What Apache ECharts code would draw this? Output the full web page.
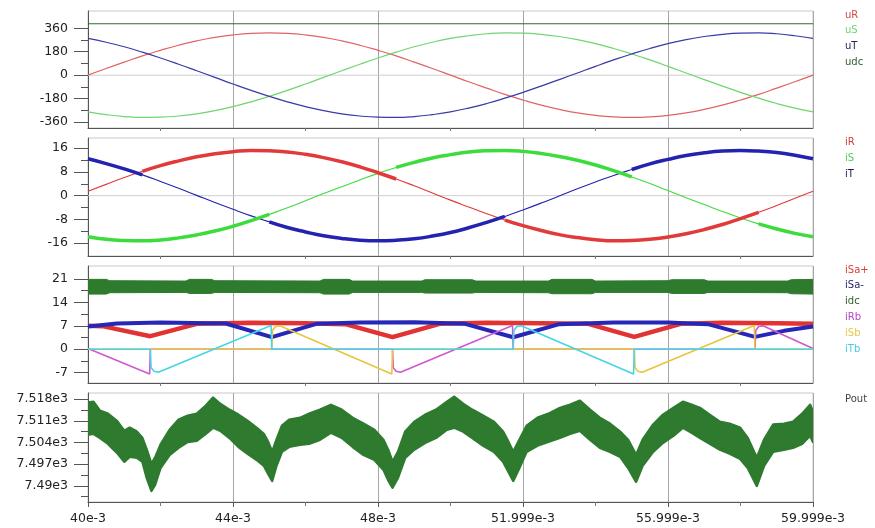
<!DOCTYPE html>
<html>
<head>
<meta charset="utf-8">
<script src="https://cdn.jsdelivr.net/npm/echarts@6/dist/echarts.min.js"></script>
<style>
html,body{margin:0;padding:0;background:#fff;}
#chart{width:875px;height:528px;}
</style>
</head>
<body>
<div id="chart"></div>
<script>
// ---- time base (ms) for the grid voltages and phase currents ----
const tAxis = [40,40.5,41,41.5,42,42.5,43,43.5,44,44.5,45,45.5,46,46.5,47,47.5,48,48.5,49,49.5,
  50,50.5,51,51.5,52,52.5,53,53.5,54,54.5,55,55.5,56,56.5,57,57.5,58,58.5,59,59.5,60];

// ---- phase voltages (V) ----
const uR = [0,51,100,148,191,230,263,290,309,321,325,321,309,290,263,230,191,148,100,51,
  0,-51,-100,-148,-191,-230,-263,-290,-309,-321,-325,-321,-309,-290,-263,-230,-191,-148,-100,-51,0];
const uS = [-282,-303,-318,-325,-323,-314,-297,-273,-242,-205,-163,-117,-68,-17,34,84,132,177,218,253,
  282,303,318,325,323,314,297,273,242,205,163,117,68,17,-34,-84,-132,-177,-218,-253,-282];
const uT = [282,253,218,177,132,84,34,-17,-68,-117,-163,-205,-242,-273,-297,-314,-323,-325,-318,-303,
  -282,-253,-218,-177,-132,-84,-34,17,68,117,163,205,242,273,297,314,323,325,318,303,282];
const udcTime = [40, 60];
const udc = [395, 395];

// ---- phase currents (A) ----
const iR = [1.5,3.8,6.1,8.2,10.1,11.7,13.1,14.1,14.8,15.2,15.1,14.7,13.9,12.8,11.4,9.7,7.7,5.6,3.3,0.9,
  -1.5,-3.8,-6.1,-8.2,-10.1,-11.7,-13.1,-14.1,-14.8,-15.2,-15.1,-14.7,-13.9,-12.8,-11.4,-9.7,-7.7,-5.6,-3.3,-0.9,1.5];
const iS = [-13.8,-14.7,-15.1,-15.2,-14.9,-14.2,-13.2,-11.9,-10.3,-8.4,-6.3,-4.1,-1.7,0.7,3.0,5.3,7.5,9.5,11.2,12.7,
  13.8,14.7,15.1,15.2,14.9,14.2,13.2,11.9,10.3,8.4,6.3,4.1,1.7,-0.7,-3.0,-5.3,-7.5,-9.5,-11.2,-12.7,-13.8];
const iT = [12.4,10.8,9.0,7.0,4.8,2.5,0.1,-2.3,-4.6,-6.8,-8.8,-10.7,-12.2,-13.5,-14.4,-15.0,-15.2,-15.0,-14.5,-13.6,
  -12.4,-10.8,-9.0,-7.0,-4.8,-2.5,-0.1,2.3,4.6,6.8,8.8,10.7,12.2,13.5,14.4,15.0,15.2,15.0,14.5,13.6,12.4];
// intervals (ms) where each phase current carries switching ripple
const iRRipple = [[41.5, 48.5], [51.5, 58.5]];
const iSRipple = [[40, 45], [48.5, 55], [58.5, 60]];
const iTRipple = [[40, 41.5], [45, 51.5], [55, 60]];

// ---- switch / dc-link currents (A) ----
const iSaPosTime = [40,40.4,41.72,43.0,44.5,46.0,47.1,48.4,49.7,51.0,52.5,53.8,55.07,56.35,57.5,59.0,60];
const iSaPos     = [7.0,6.9,3.9,7.6,7.9,7.8,7.5,3.6,7.6,7.9,7.8,7.6,3.7,7.6,7.9,7.8,7.6];
const iSaNegTime = [40,40.8,42.0,43.8,45.07,46.3,47.5,49.0,50.4,51.73,53.0,54.5,56.0,57.1,58.4,59.2,60];
const iSaNeg     = [6.8,7.7,8.0,7.7,3.6,7.6,8.0,8.1,7.6,3.6,7.5,8.0,8.0,7.5,3.7,5.5,6.8];
const idcTime  = [40,40.5,40.6,42.7,42.8,43.4,43.5,46.4,46.5,47.2,47.3,49.2,49.3,50.6,50.7,52.7,52.8,53.9,54.0,56.0,56.1,57.0,57.1,59.3,59.4,60];
const idcHigh  = [20.9,20.9,20.5,20.4,20.9,20.9,20.5,20.4,20.9,20.9,20.4,20.4,20.8,20.8,20.4,20.4,20.9,20.9,20.4,20.5,20.8,20.8,20.4,20.4,20.8,20.9];
const idcLow   = [16.5,16.5,16.9,17.0,16.7,16.7,17.0,16.9,16.5,16.5,17.0,17.0,16.8,16.8,17.0,16.9,16.6,16.6,17.0,17.0,16.7,16.7,17.0,16.9,16.6,16.5];
const iRbTime = [40,41.70,41.72,48.40,48.42,48.50,48.62,51.71,51.73,58.40,58.42,58.50,58.62,60];
const iRb     = [0.2,-7.4,0,0,-5.5,-6.6,-6.9,7.1,0,0,5.6,6.8,7.0,0.2];
const iSbTime = [40,45.07,45.09,45.17,45.29,48.38,48.40,55.07,55.09,55.17,55.29,58.38,58.40,60];
const iSb     = [0,0,5.6,6.8,7.0,-7.4,0,0,-5.5,-6.6,-6.9,7.1,0,0];
const iTbTime = [40,41.72,41.74,41.82,41.94,45.05,45.07,51.73,51.75,51.83,51.95,55.05,55.07,60];
const iTb     = [0,0,-5.5,-6.6,-6.9,7.1,0,0,5.6,6.8,7.0,-7.4,0,0];

// ---- output power envelope (W) ----
const poutTime = [40.00,40.15,40.33,40.55,40.80,41.00,41.15,41.35,41.50,41.62,
  41.75,41.85,42.00,42.25,42.50,42.75,43.00,43.25,43.45,43.65,
  43.90,44.15,44.40,44.65,44.85,44.97,45.08,45.20,45.35,45.55,
  45.85,46.10,46.40,46.70,47.00,47.30,47.60,47.90,48.15,48.28,
  48.40,48.55,48.75,49.00,49.30,49.60,49.90,50.10,50.35,50.60,
  50.90,51.20,51.45,51.60,51.73,51.90,52.10,52.40,52.70,53.02,
  53.30,53.57,53.85,54.12,54.40,54.68,54.90,55.12,55.30,55.59,
  55.86,56.15,56.41,56.65,56.88,57.15,57.43,57.70,57.99,58.20,
  58.45,58.65,58.90,59.20,59.45,59.70,59.92,60.00];
const poutHigh = [7516.9,7517.2,7514.3,7513.3,7511.0,7507.8,7508.8,7507.5,7505.5,7501.7,
  7497.1,7499.1,7503.3,7508.1,7511.4,7512.7,7513.3,7515.9,7518.5,7516.5,
  7514.6,7513.0,7511.0,7508.8,7506.8,7504.2,7501.0,7504.9,7509.4,7511.4,
  7512.0,7513.3,7514.6,7516.2,7514.6,7512.0,7510.1,7508.1,7504.9,7501.7,
  7497.8,7501.0,7507.5,7510.7,7513.0,7514.6,7517.2,7518.8,7516.5,7514.6,
  7512.7,7510.7,7507.5,7504.2,7501.0,7504.9,7509.4,7512.0,7513.3,7515.2,
  7516.2,7517.5,7514.6,7512.0,7510.1,7507.5,7504.9,7500.0,7504.9,7509.8,
  7513.0,7515.2,7517.2,7516.2,7515.2,7513.0,7510.7,7510.1,7508.8,7505.5,
  7499.1,7504.9,7509.8,7510.1,7510.7,7513.3,7516.2,7514.0];
const poutLow = [7506.5,7506.8,7505.5,7503.6,7500.7,7497.8,7499.4,7499.1,7497.8,7492.6,
  7488.4,7490.3,7495.8,7500.0,7502.3,7504.2,7504.6,7506.8,7508.8,7507.8,
  7505.5,7502.6,7500.4,7498.4,7496.5,7493.9,7491.6,7496.5,7501.0,7502.6,
  7503.3,7503.6,7504.9,7507.2,7505.5,7502.6,7500.0,7498.4,7495.2,7491.9,
  7489.4,7492.6,7499.1,7501.7,7503.9,7505.5,7508.1,7508.8,7507.5,7505.5,
  7503.0,7501.0,7497.8,7494.5,7491.6,7495.8,7501.0,7503.0,7504.2,7505.5,
  7506.8,7507.8,7504.9,7502.3,7501.0,7499.4,7495.8,7491.3,7496.5,7501.0,
  7503.9,7506.2,7508.8,7507.2,7505.5,7503.6,7501.7,7500.4,7498.7,7495.8,
  7490.0,7496.5,7501.0,7501.7,7502.3,7503.6,7506.2,7504.2];

// ---- tick labels ----
const xTickLabels = ['40e-3','44e-3','48e-3','51.999e-3','55.999e-3','59.999e-3'];
const p1Ticks = [-360,-180,0,180,360];   const p1Labels = ['-360','-180','0','180','360'];
const p2Ticks = [-16,-8,0,8,16];         const p2Labels = ['-16','-8','0','8','16'];
const p3Ticks = [-7,0,7,14,21];          const p3Labels = ['-7','0','7','14','21'];
const p4Ticks = [7490,7497,7504,7511,7518]; const p4Labels = ['7.49e3','7.497e3','7.504e3','7.511e3','7.518e3'];
const p1Minor = [-270,-90,90,270];
const p2Minor = [-12,-4,4,12];
const p3Minor = [-3.5,3.5,10.5,17.5];
const p4Minor = [7486.5,7493.5,7500.5,7507.5,7514.5];

// ---- trace names ----
const p1Names = ['uR','uS','uT','udc'];
const p2Names = ['iR','iS','iT'];
const p3Names = ['iSa+','iSa-','idc','iRb','iSb','iTb'];
const p4Names = ['Pout'];

// zero reference across the time span
const zeroRefTime = [40, 60];
const zeroRef = [0, 0];

// ---------------- layout & styling ----------------
const FONT = '"DejaVu Sans", "Liberation Sans", sans-serif';
const PLOT_LEFT = 88, PLOT_W = 725;
const panels = [
  { top: 11,  height: 117, range: [-406, 493],      ticks: p1Ticks, labels: p1Labels, minor: p1Minor },
  { top: 138, height: 118, range: [-20.3, 19.4],    ticks: p2Ticks, labels: p2Labels, minor: p2Minor },
  { top: 266, height: 117, range: [-10.1, 24.9],    ticks: p3Ticks, labels: p3Labels, minor: p3Minor },
  { top: 393, height: 109, range: [7484.8, 7520.0], ticks: p4Ticks, labels: p4Labels, minor: p4Minor }
];

const pairs = (xs, ys) => xs.map((x, i) => [x, ys[i]]);
const ripplePairs = (xs, ys, spans) => xs.map((x, i) =>
  spans.some(s => x >= s[0] - 1e-9 && x <= s[1] + 1e-9) ? [x, ys[i]] : [x, '-']);

const grids = [], xAxes = [], yAxes = [];
panels.forEach((p, k) => {
  grids.push({ left: PLOT_LEFT, width: PLOT_W, top: p.top, height: p.height,
    show: true, borderColor: '#c9c9c9', borderWidth: 1, backgroundColor: '#fff' });
  const last = k === panels.length - 1;
  xAxes.push({
    gridIndex: k, type: 'value', min: 40, max: 60, interval: 4,
    axisLine: { show: true, onZero: false, lineStyle: { color: '#555', width: 1 } },
    axisTick: { show: last, length: 5, lineStyle: { color: '#555' } },
    minorTick: { show: true, splitNumber: 2, length: last ? 4 : 3, lineStyle: { color: '#777' } },
    axisLabel: { show: last, margin: 10, color: '#222', fontSize: 12.5, fontFamily: FONT,
      formatter: v => xTickLabels[Math.round((v - 40) / 4)] },
    splitLine: { show: true, lineStyle: { color: '#a6a6a6', width: 1 } },
    minorSplitLine: { show: false }
  });
  yAxes.push({
    gridIndex: k, type: 'value', min: p.range[0], max: p.range[1], position: 'left', offset: 0,
    axisLine: { show: true, onZero: false, lineStyle: { color: '#555', width: 1 } },
    axisTick: { show: true, length: 14, customValues: p.ticks, lineStyle: { color: '#555' } },
    axisLabel: { show: true, customValues: p.ticks, margin: 20, color: '#222', fontSize: 12.5, fontFamily: FONT,
      formatter: v => { let b = 0; p.ticks.forEach((t, i) => { if (Math.abs(t - v) < Math.abs(p.ticks[b] - v)) b = i; }); return p.labels[b]; } },
    splitLine: { show: false }
  });
  yAxes.push({
    gridIndex: k, type: 'value', min: p.range[0], max: p.range[1], position: 'left', offset: 0,
    axisLine: { show: false },
    axisTick: { show: true, length: 7, customValues: p.minor, lineStyle: { color: '#555' } },
    axisLabel: { show: false },
    splitLine: { show: false }
  });
});

function line(panel, data, color, width, extra) {
  return Object.assign({ type: 'line', xAxisIndex: panel, yAxisIndex: panel * 2, data,
    symbol: 'none', silent: true, animation: false, connectNulls: false,
    lineStyle: { color, width }, itemStyle: { color } }, extra || {});
}
// filled envelope between a high and a low trace, drawn as one polygon through the axes
function band(panel, xs, hi, lo, color, edge) {
  return {
    type: 'custom', xAxisIndex: panel, yAxisIndex: panel * 2, silent: true, animation: false, clip: true,
    data: xs.map((x, i) => [x, hi[i], lo[i]]),
    encode: { x: 0, y: [1, 2] },
    renderItem: (params, api) => {
      if (params.dataIndex !== 0) return null;
      const pts = [];
      for (let i = 0; i < xs.length; i++) pts.push(api.coord([xs[i], hi[i]]));
      for (let i = xs.length - 1; i >= 0; i--) pts.push(api.coord([xs[i], lo[i]]));
      return { type: 'polygon', shape: { points: pts },
        style: { fill: color, stroke: color, lineWidth: edge, lineJoin: 'round' } };
    }
  };
}

const C = {
  uR: '#e06464', uS: '#6fd66f', uT: '#3a3aa6', udc: '#2f6a2f',
  iR: '#e23a3a', iS: '#3ddc3d', iT: '#2323b0',
  iSaPos: '#e23232', iSaNeg: '#2626b8', idc: '#2e7b2e', iRb: '#cf58cf', iSb: '#e7c53e', iTb: '#45d5e6',
  pout: '#2e7a2e', zero: '#cfcfcf'
};

const series = [
  // zero references (drawn first, under the traces)
  line(0, pairs(zeroRefTime, zeroRef), C.zero, 1),
  line(1, pairs(zeroRefTime, zeroRef), C.zero, 1),
  line(2, pairs(zeroRefTime, zeroRef), C.zero, 1),
  // panel 1: grid voltages and dc-link voltage
  line(0, pairs(tAxis, uR), C.uR, 1.2, { smooth: true }),
  line(0, pairs(tAxis, uS), C.uS, 1.2, { smooth: true }),
  line(0, pairs(tAxis, uT), C.uT, 1.2, { smooth: true }),
  line(0, pairs(udcTime, udc), C.udc, 1.2),
  // panel 2: phase currents, thin trace plus ripple sections
  line(1, pairs(tAxis, iR), C.iR, 1.1, { smooth: true }),
  line(1, pairs(tAxis, iS), C.iS, 1.1, { smooth: true }),
  line(1, pairs(tAxis, iT), C.iT, 1.1, { smooth: true }),
  line(1, ripplePairs(tAxis, iR, iRRipple), C.iR, 3.5, { smooth: true }),
  line(1, ripplePairs(tAxis, iS, iSRipple), C.iS, 3.5, { smooth: true }),
  line(1, ripplePairs(tAxis, iT, iTRipple), C.iT, 3.5, { smooth: true }),
  // panel 3: switch currents and dc current
  band(2, idcTime, idcHigh, idcLow, C.idc, 1),
  line(2, pairs(iSaPosTime, iSaPos), C.iSaPos, 4.5),
  line(2, pairs(iSaNegTime, iSaNeg), C.iSaNeg, 4),
  line(2, pairs(iRbTime, iRb), C.iRb, 1.6),
  line(2, pairs(iSbTime, iSb), C.iSb, 1.6),
  line(2, pairs(iTbTime, iTb), C.iTb, 1.6),
  // panel 4: output power
  band(3, poutTime, poutHigh, poutLow, C.pout, 2.5)
];

// trace labels at the right of each panel
const legendSpec = [
  { names: p1Names, colors: ['#d04a4a', '#6cd46c', '#23235e', '#2d5e2d'], top: 10, step: 15.7 },
  { names: p2Names, colors: ['#d04040', '#55cc55', '#1c1c50'], top: 137, step: 16 },
  { names: p3Names, colors: ['#e03a3a', '#28286a', '#2e5e2e', '#b048c8', '#e6c84a', '#48cce0'], top: 265, step: 15.8 },
  { names: p4Names, colors: ['#444'], top: 394, step: 16 }
];
const graphic = [];
legendSpec.forEach(g => g.names.forEach((n, i) => graphic.push({
  type: 'text', left: 845, top: g.top + i * g.step, silent: true,
  style: { text: n, fill: g.colors[i], font: '10px ' + FONT }
})));

const chart = echarts.init(document.getElementById('chart'), null, { renderer: 'canvas' });
chart.setOption({
  backgroundColor: '#ffffff',
  animation: false,
  grid: grids, xAxis: xAxes, yAxis: yAxes,
  series, graphic
});
</script>
</body>
</html>
